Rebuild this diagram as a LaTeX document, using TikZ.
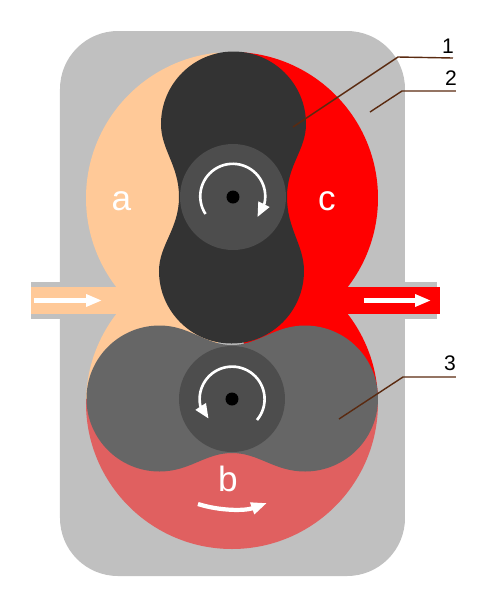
\documentclass[tikz,border=0pt]{standalone}
\usepackage{fontspec}
\setmainfont{Liberation Sans}
\usetikzlibrary{arrows.meta}
\definecolor{casing}{HTML}{C0C0C0}
\definecolor{inlet}{HTML}{FFC998}
\definecolor{outlet}{HTML}{FF0000}
\definecolor{carried}{HTML}{E06060}
\definecolor{upperlobe}{HTML}{333333}
\definecolor{lowerlobe}{HTML}{666666}
\definecolor{hub}{HTML}{4D4D4D}
\definecolor{leader}{HTML}{5A2A10}
\tikzset{
  flowarrow/.style={-{Triangle[length=9pt,width=6.6pt]},line width=2.4pt,color=white},
  turnarrow/.style={-{Triangle[length=8.2pt,width=6.8pt]},line width=1.5pt,color=white},
  leaderline/.style={draw=leader,line width=0.8pt},
  chamberlabel/.style={text=white,font=\fontsize{20}{22}\selectfont,inner sep=0pt},
  partlabel/.style={text=black,font=\fontsize{12}{14}\selectfont,inner sep=0pt},
}
\begin{document}
\begin{tikzpicture}[x=0.02cm,y=-0.02cm]
    \useasboundingbox (0,0) rectangle (477,600);
    % casing and port walls
    \fill[casing,rounded corners=1.16cm] (60,31) rectangle (405,576);
    \fill[casing] (31,282) rectangle (120,319);
    \fill[casing] (345,282) rectangle (437,319);
    % chambers
    \begin{scope}
      \clip (0,0) rectangle (218,400);
      \fill[inlet] (232,198) circle[radius=146];
      \fill[inlet] (232,403) circle[radius=146];
      \fill[inlet] (31,287) rectangle (232,314);
    \end{scope}
    \begin{scope}
      \clip (244,0) rectangle (477,400);
      \fill[outlet] (232,198) circle[radius=146];
      \fill[outlet] (232,403) circle[radius=146];
      \fill[outlet] (232,287) rectangle (440,314);
    \end{scope}
    \begin{scope}
      \clip (0,399) rectangle (477,600);
      \fill[carried] (232,403) circle[radius=146];
    \end{scope}
    % lower rotor
    \fill[lowerlobe] (159.5,325.5) .. controls (190,325.5) and (205,345) .. (232,345)
      .. controls (259,345) and (274,325.5) .. (305,325.5)
      arc[start angle=270,end angle=450,radius=73]
      .. controls (274,471.5) and (259,453) .. (232,453)
      .. controls (205,453) and (190,471.5) .. (159.5,471.5)
      arc[start angle=90,end angle=270,radius=73] -- cycle;
    % upper rotor
    \fill[upperlobe] (161,124) arc[start angle=180,end angle=360,radius=72.5]
      .. controls (306,150) and (287,165) .. (287,197)
      .. controls (287,229) and (304,245) .. (304,271)
      arc[start angle=0,end angle=180,radius=72.5]
      .. controls (159,245) and (179,229) .. (179,197)
      .. controls (179,165) and (161,150) .. (161,124) -- cycle;
    % hubs
    \foreach \x/\y in {233/197,232/399}{
      \fill[hub] (\x,\y) circle[radius=53];
      \fill[black] (\x,\y) circle[radius=6.5];
    }
    % rotation and flow arrows
    \draw[turnarrow] (205.5,214) arc[start angle=147,end angle=372,radius=32.5] -- (257.5,217);
    \draw[turnarrow] (257,420) arc[start angle=40,end angle=-192,radius=32.5] -- (208.5,418.5);
    \coordinate (inA) at (34,300.5);
    \coordinate (inB) at (102,300.5);
    \coordinate (outA) at (364,300.5);
    \coordinate (outB) at (431,300.5);
    \coordinate (carryA) at (198,504);
    \coordinate (carryB) at (267,503);
    \draw[flowarrow] (inA) -- (inB);
    \draw[flowarrow] (outA) -- (outB);
    \draw[flowarrow] (carryA) .. controls (220,511) and (245,511) .. (carryB);
    % chamber letters
    \node[chamberlabel] (chamberA) at (121.5,201.5) {a};
    \node[chamberlabel] (chamberB) at (228,479) {b};
    \node[chamberlabel] (chamberC) at (327,201.5) {c};
    % leaders with part numbers
    \foreach \tag/\lx/\ly/\ax/\ay/\bx/\by/\cx/\cy in {
      1/448/46/293/127/398/57/453/58,
      2/451/78/370/112/402/91/456/91,
      3/450/363/339/419/403/377/456/377%
    }{
      \node[partlabel] (part\tag) at (\lx,\ly) {\tag};
      \coordinate (tip\tag) at (\ax,\ay);
      \coordinate (knee\tag) at (\bx,\by);
      \coordinate (end\tag) at (\cx,\cy);
      \draw[leaderline] (tip\tag) -- (knee\tag) -- (end\tag);
    }
\end{tikzpicture}
\end{document}
